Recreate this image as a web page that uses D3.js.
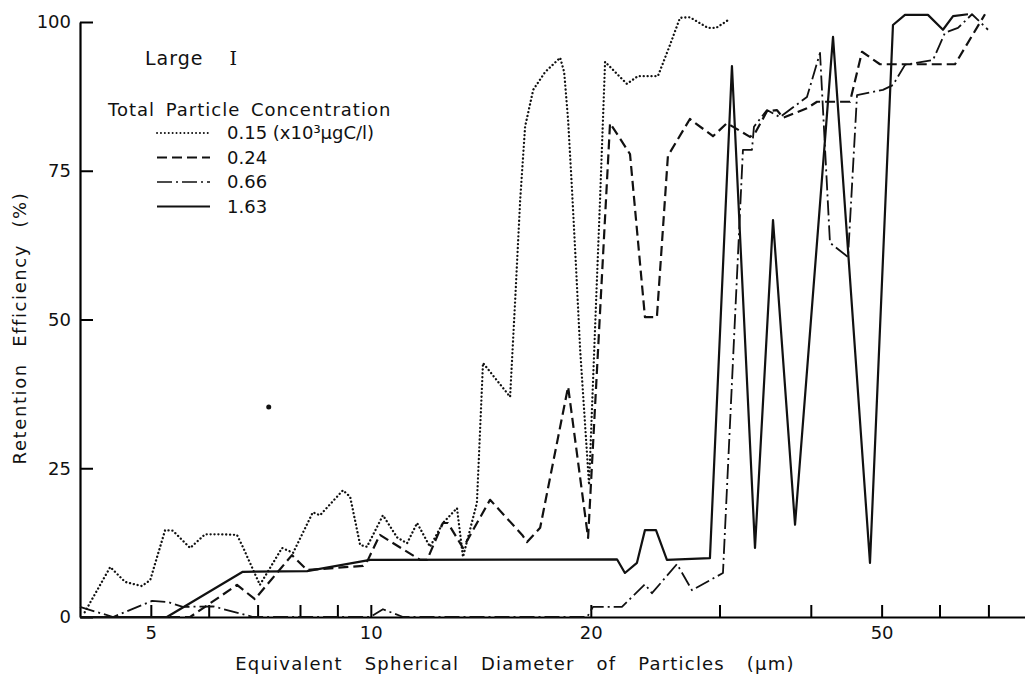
<!DOCTYPE html>
<html>
<head>
<meta charset="utf-8">
<script src="https://cdn.jsdelivr.net/npm/d3@7"></script>
<style>
  body { margin: 0; background: #fff; }
  svg text { font-family: "DejaVu Sans", sans-serif; fill: #111; }
</style>
</head>
<body>
<svg id="chart" width="1025" height="686"></svg>
<script>
// values: [diameter (um), retention (%)]
var conc015 = [[4.06,0.8],[4.40,8.4],[4.61,5.9],[4.86,5.2],[4.99,6.2],[5.23,14.6],[5.36,14.5],[5.66,11.6],[5.93,13.9],[6.22,13.9],[6.56,13.8],[6.68,11.8],[7.05,5.4],[7.56,11.6],[7.83,10.8],[8.33,17.6],[8.52,17.1],[9.16,21.3],[9.37,20.2],[9.67,12.1],[9.88,11.8],[10.39,17.1],[10.86,13.4],[11.21,12.4],[11.57,15.8],[12.05,11.8],[12.55,15.8],[13.12,18.3],[13.37,10.1],[13.97,19.2],[14.24,42.7],[15.51,37.0],[15.76,53.3],[16.01,70.1],[16.26,82.4],[16.68,88.6],[17.32,91.6],[18.16,94.0],[18.39,91.6],[18.62,83.5],[18.85,71.8],[19.09,58.8],[19.34,44.9],[19.89,22.2],[20.34,53.3],[20.59,70.1],[20.92,93.3],[22.41,89.6],[23.20,90.9],[24.71,90.9],[25.66,96.1],[26.49,100.7],[27.33,100.8],[28.93,99.0],[29.67,99.0],[30.81,100.3]];

var conc024 = [[4.00,0],[5.66,0],[6.56,5.4],[6.94,3.0],[7.80,10.4],[8.18,7.9],[9.76,8.6],[9.91,9.6],[10.29,13.8],[11.68,9.6],[11.94,9.6],[12.55,15.8],[12.75,15.8],[13.37,11.6],[14.56,19.7],[16.11,13.8],[16.36,12.6],[17.05,15.0],[18.62,38.7],[19.83,13.3],[21.25,83.0],[22.63,77.8],[23.72,50.4],[24.63,50.4],[25.50,77.5],[27.33,83.7],[29.39,80.8],[30.71,83.0],[33.03,80.7],[33.55,81.3],[34.84,85.0],[35.96,85.2],[36.64,83.9],[39.52,85.5],[40.79,86.6],[45.26,86.6],[47.00,95.0],[49.74,92.9],[63.01,92.9],[69.25,101.3]];

var conc066 = [[4.00,1.7],[4.44,0],[5.02,2.7],[5.28,2.5],[5.53,1.7],[6.08,1.8],[6.90,0],[9.98,0],[10.39,1.3],[11.07,0],[19.77,0],[20.14,1.7],[22.06,1.7],[23.72,5.5],[24.25,4.0],[26.24,8.9],[27.51,4.5],[30.33,7.4],[32.30,78.5],[33.23,78.5],[33.44,82.4],[34.84,85.2],[36.30,84.0],[39.52,87.4],[41.18,94.8],[42.49,62.9],[44.98,60.5],[46.27,87.7],[50.21,88.6],[51.82,89.4],[53.82,92.8],[58.78,93.6],[61.05,98.2],[63.60,99.0],[66.47,101.3],[69.91,98.7]];

var conc163 = [[4.00,0],[5.26,0],[6.68,7.6],[8.18,7.7],[9.98,9.6],[21.72,9.7],[22.27,7.4],[23.13,9.1],[23.72,14.6],[24.56,14.6],[25.42,9.6],[29.11,9.9],[31.20,92.6],[33.55,11.6],[35.51,66.7],[38.06,15.5],[42.90,97.5],[48.20,9.1],[51.82,99.5],[53.82,101.2],[57.86,101.2],[60.66,98.7],[62.62,101.0],[65.64,101.3]];

var strayMark = [[7.25,35.3]];

var concLabels = ["0.15", "0.24", "0.66", "1.63"];
var xTicks = [5,6,7,8,9,10,20,30,40,50,60,70];
var xTickLabels = [5,10,20,50];
var yTicks = [0,25,50,75,100];

var svg = d3.select('#chart');

var x = d3.scaleLog().domain([4, 80]).range([80, 80 + 730.8 * Math.log10(20)]);
var y = d3.scaleLinear().domain([0, 100]).range([617, 22]);

var styles = [
  { dash: "0.1,3.8", width: 2.3, cap: "round" },
  { dash: "10,5", width: 2.2, cap: "butt" },
  { dash: "15,4,2,4", width: 1.8, cap: "butt" },
  { dash: null, width: 2.2, cap: "butt" }
];
var allSeries = [conc015, conc024, conc066, conc163];

// axes
var xAxis = svg.append('g')
    .attr('transform', 'translate(0,' + y(0) + ')')
    .call(d3.axisBottom(x).tickValues(xTicks).tickSizeInner(-12).tickSizeOuter(0).tickPadding(9)
      .tickFormat(d => xTickLabels.indexOf(d) >= 0 ? d : ""));
xAxis.select('.domain').attr('stroke-width', 2.2);
xAxis.selectAll('.tick line').attr('stroke-width', 2);
xAxis.selectAll('text').style('font-size', '18px').attr('fill', '#111');

var yAxis = svg.append('g')
    .attr('transform', 'translate(' + x(4) + ',0)')
    .call(d3.axisLeft(y).tickValues(yTicks).tickSizeInner(-13).tickSizeOuter(0).tickPadding(9));
yAxis.select('.domain').attr('stroke-width', 2.2);
yAxis.selectAll('.tick line').attr('stroke-width', 2);
yAxis.selectAll('text').style('font-size', '18px').attr('fill', '#111');

// lines
var line = d3.line().x(d => x(d[0])).y(d => y(d[1]));

svg.selectAll('path.series')
    .data(allSeries)
    .enter()
    .append('path')
    .attr('class', 'series')
    .attr('d', line)
    .attr('fill', 'none')
    .attr('stroke', '#111')
    .attr('stroke-width', (d, i) => styles[i].width)
    .attr('stroke-dasharray', (d, i) => styles[i].dash)
    .attr('stroke-linecap', (d, i) => styles[i].cap)
    .attr('stroke-linejoin', 'round');

svg.selectAll('circle.stray')
    .data(strayMark)
    .enter()
    .append('circle')
    .attr('cx', d => x(d[0]))
    .attr('cy', d => y(d[1]))
    .attr('r', 2.5)
    .attr('fill', '#111');

// axis titles
svg.append('text')
    .attr('x', 515)
    .attr('y', 670)
    .attr('text-anchor', 'middle')
    .style('font-size', '18px')
    .style('letter-spacing', '1.2px')
    .style('word-spacing', '15px')
    .text('Equivalent Spherical Diameter of Particles (\u00b5m)');

svg.append('text')
    .attr('transform', 'translate(26,328) rotate(-90)')
    .attr('text-anchor', 'middle')
    .style('font-size', '18px')
    .style('letter-spacing', '1.6px')
    .style('word-spacing', '9px')
    .text('Retention Efficiency (%)');

// legend
var title = svg.append('text')
    .attr('x', 145)
    .attr('y', 65)
    .style('font-size', '19px')
    .style('letter-spacing', '1px');
title.append('tspan').text('Large');
title.append('tspan').attr('dx', 26).style('font-family', '"DejaVu Serif", serif').text('I');

svg.append('text')
    .attr('x', 108)
    .attr('y', 116)
    .style('font-size', '18px')
    .style('letter-spacing', '1px')
    .style('word-spacing', '4px')
    .text('Total Particle Concentration');

var legend = svg.selectAll('g.leg')
    .data(concLabels)
    .enter()
    .append('g')
    .attr('class', 'leg')
    .attr('transform', (d, i) => 'translate(0,' + (133 + i * 24.5) + ')');

legend.append('line')
    .attr('x1', 157).attr('x2', 210)
    .attr('y1', 0).attr('y2', 0)
    .attr('stroke', '#111')
    .attr('stroke-width', (d, i) => styles[i].width - 0.4)
    .attr('stroke-dasharray', (d, i) => styles[i].dash)
    .attr('stroke-linecap', (d, i) => styles[i].cap);

legend.append('text')
    .attr('x', 227)
    .attr('y', 6)
    .style('font-size', '18px')
    .text((d, i) => i === 0 ? d + ' (x10\u00b3\u00b5gC/l)' : d);
</script>
</body>
</html>
